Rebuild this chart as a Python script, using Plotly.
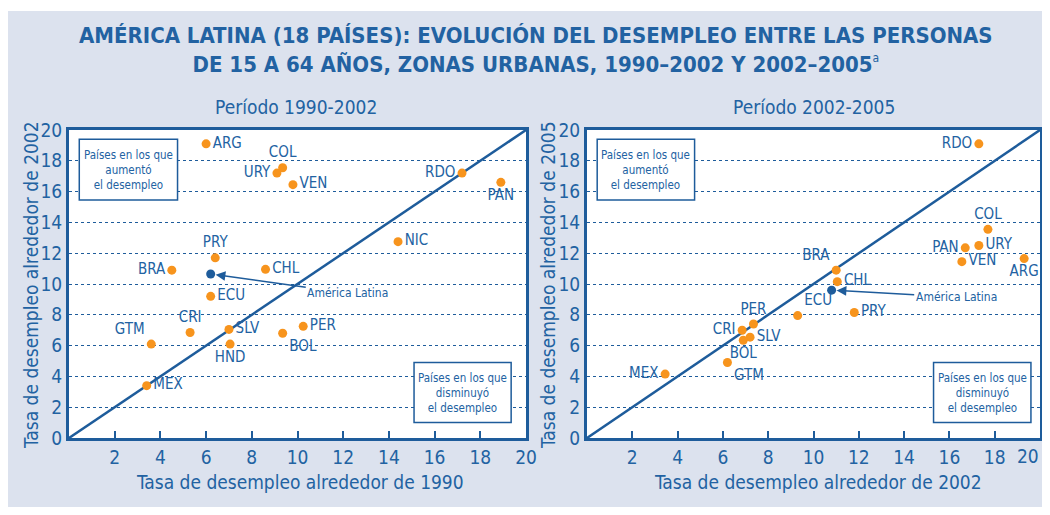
import plotly.graph_objects as go

# ---------------- data ----------------
countries_a = ["ARG", "COL", "URY", "VEN", "RDO", "PAN", "NIC", "PRY", "BRA", "CHL",
               "ECU", "CRI", "GTM", "SLV", "HND", "BOL", "PER", "MEX"]
x_1990 = [6.0, 9.35, 9.1, 9.8, 17.2, 18.9, 14.4, 6.4, 4.5, 8.6,
          6.2, 5.3, 3.6, 7.0, 7.05, 9.35, 10.25, 3.4]
y_2002a = [19.1, 17.55, 17.2, 16.45, 17.2, 16.6, 12.75, 11.7, 10.9, 10.95,
           9.2, 6.85, 6.1, 7.05, 6.1, 6.8, 7.25, 3.4]
pos_a = ["middle right", "top center", "middle left", "middle right", "middle left",
         "bottom center", "middle right", "top center", "middle left", "middle right",
         "middle right", "top center", "top left", "middle right", "bottom center",
         "bottom right", "middle right", "middle right"]

countries_b = ["RDO", "COL", "URY", "PAN", "VEN", "ARG", "BRA", "CHL", "PRY", "ECU",
               "PER", "CRI", "SLV", "BOL", "GTM", "MEX"]
x_2002 = [17.3, 17.7, 17.3, 16.7, 16.55, 19.3, 11.0, 11.05, 11.8, 9.3,
          7.35, 6.85, 7.2, 6.9, 6.2, 3.45]
y_2005 = [19.1, 13.55, 12.5, 12.35, 11.45, 11.65, 10.9, 10.15, 8.15, 7.95,
          7.4, 7.0, 6.55, 6.35, 4.9, 4.15]
pos_b = ["middle left", "top center", "middle right", "middle left", "middle right",
         "bottom center", "top left", "middle right", "middle right", "top right",
         "top center", "middle left", "middle right", "bottom center", "bottom right",
         "middle left"]

al_a = (6.2, 10.65)
al_b = (10.8, 9.6)

diag = [0, 20]
ticks_x = [2, 4, 6, 8, 10, 12, 14, 16, 18, 20]
ticks_y = [0, 2, 4, 6, 8, 10, 12, 14, 16, 18, 20]

# ---------------- styles ----------------
BLUE = "#1E5C9B"
TXT = "#2262A2"
ORANGE = "#F7941D"
BG = "#DCE2EE"
FONT = "Liberation Sans Narrow, Arial Narrow, DejaVu Sans Condensed, Roboto Condensed, sans-serif"

OFF = 8  # page body margin
W, H = 1050 - OFF, 515 - 2 * OFF


def px_x(p):
    return (p - OFF) / W


def px_y(p):
    return 1 - (p - OFF) / H


fig = go.Figure()

for (xs, ys, names, pos, xa, ya) in [(x_1990, y_2002a, countries_a, pos_a, "x", "y"),
                                      (x_2002, y_2005, countries_b, pos_b, "x2", "y2")]:
    fig.add_trace(go.Scatter(x=diag, y=diag, mode="lines", xaxis=xa, yaxis=ya,
                             line=dict(color=BLUE, width=2.5), hoverinfo="skip",
                             showlegend=False))
    fig.add_trace(go.Scatter(x=xs, y=ys, mode="markers+text", text=names,
                             textposition=pos, xaxis=xa, yaxis=ya,
                             marker=dict(color=ORANGE, size=9),
                             textfont=dict(color=TXT, size=15, family=FONT),
                             cliponaxis=False, showlegend=False))

fig.add_trace(go.Scatter(x=[al_a[0]], y=[al_a[1]], mode="markers", xaxis="x", yaxis="y",
                         marker=dict(color=BLUE, size=9), showlegend=False))
fig.add_trace(go.Scatter(x=[al_b[0]], y=[al_b[1]], mode="markers", xaxis="x2", yaxis="y2",
                         marker=dict(color=BLUE, size=9), showlegend=False))

tick_font = dict(color=TXT, size=19, family=FONT)
axis_common = dict(range=[0, 20], showline=True, mirror=True, linecolor=BLUE, linewidth=3,
                   tickfont=tick_font, zeroline=False,
                   fixedrange=True, automargin=False, ticklabeloverflow="allow")
xaxis_common = dict(axis_common, tickvals=ticks_x, ticks="inside", ticklen=7, tickwidth=2,
                    tickcolor=BLUE, showgrid=False)
yaxis_common = dict(axis_common, tickvals=ticks_y, ticks="", showgrid=True,
                    gridcolor=BLUE, griddash="dot", gridwidth=1)

# last label of the right panel is written separately so it stays inside the page
ticktext_x2 = [str(v) for v in ticks_x[:-1]] + [""]

fig.update_layout(
    width=W, height=H,
    paper_bgcolor=BG, plot_bgcolor="white",
    margin=dict(l=0, r=0, t=0, b=0),
    xaxis=dict(xaxis_common, domain=[px_x(69), px_x(526)], anchor="y"),
    yaxis=dict(yaxis_common, domain=[px_y(438), px_y(130)], anchor="x"),
    xaxis2=dict(xaxis_common, domain=[px_x(587), px_x(1040)], anchor="y2",
                ticktext=ticktext_x2),
    yaxis2=dict(yaxis_common, domain=[px_y(438), px_y(130)], anchor="x2"),
)

title_font = dict(color=TXT, size=19, family=FONT)


def paper_text(text, x, y, font, angle=0, xanchor="center"):
    return dict(text=text, x=px_x(x), y=px_y(y), xref="paper", yref="paper",
                xanchor=xanchor, yanchor="middle", showarrow=False, textangle=angle,
                font=font)


annotations = [
    paper_text("AMÉRICA LATINA (18 PAÍSES): EVOLUCIÓN DEL DESEMPLEO ENTRE LAS PERSONAS<br>"
               "DE 15 A 64 AÑOS, ZONAS URBANAS, 1990–2002 Y 2002–2005"
               "<sup><span style='font-weight:normal;font-size:12px'>a</span></sup>",
               536, 50, dict(color=TXT, size=22, family=FONT, weight="bold")),
    paper_text("Período 1990-2002", 296, 107, dict(color=TXT, size=19, family=FONT)),
    paper_text("Período 2002-2005", 814, 107, dict(color=TXT, size=19, family=FONT)),
    paper_text("Tasa de desempleo alrededor de 1990", 300, 482, title_font),
    paper_text("Tasa de desempleo alrededor de 2002", 818, 482, title_font),
    paper_text("Tasa de desempleo alrededor de 2002", 31, 285, title_font, -90),
    paper_text("Tasa de desempleo alrededor de 2005", 548, 285, title_font, -90),
    paper_text(str(ticks_x[-1]), 1041, 456, tick_font, xanchor="right"),
]

shapes = [
    # thin white strip at the top of the page, as in the reference
    dict(type="rect", xref="paper", yref="paper", x0=0, x1=1, y0=px_y(11), y1=1,
         fillcolor="white", line=dict(width=0), layer="below"),
]
box_font = dict(color=TXT, size=11.5, family=FONT)
for xa, ya in [("x", "y"), ("x2", "y2")]:
    shapes.append(dict(type="rect", xref=xa, yref=ya, x0=0.45, x1=4.75, y0=15.45, y1=19.4,
                       fillcolor="white", line=dict(color=BLUE, width=1.5), layer="above"))
    annotations.append(dict(text="Países en los que<br>aumentó<br>el desempleo", x=2.6, y=17.42,
                            xref=xa, yref=ya, showarrow=False, font=box_font))
    x0 = 15.1 if xa == "x" else 15.3
    x1 = 19.35 if xa == "x" else 19.6
    shapes.append(dict(type="rect", xref=xa, yref=ya, x0=x0, x1=x1, y0=1.0, y1=4.9,
                       fillcolor="white", line=dict(color=BLUE, width=1.5), layer="above"))
    annotations.append(dict(text="Países en los que<br>disminuyó<br>el desempleo",
                            x=(x0 + x1) / 2, y=2.95, xref=xa, yref=ya, showarrow=False,
                            font=box_font))

annotations.append(dict(text="América Latina", x=al_a[0], y=al_a[1], xref="x", yref="y",
                        ax=12.2, ay=9.4, axref="x", ayref="y", showarrow=True,
                        arrowhead=2, arrowsize=1.3, arrowwidth=1.5, arrowcolor=BLUE,
                        standoff=5, font=dict(color=TXT, size=12, family=FONT)))
annotations.append(dict(text="América Latina", x=al_b[0], y=al_b[1], xref="x2", yref="y2",
                        ax=16.3, ay=9.15, axref="x2", ayref="y2", showarrow=True,
                        arrowhead=2, arrowsize=1.3, arrowwidth=1.5, arrowcolor=BLUE,
                        standoff=5, font=dict(color=TXT, size=12, family=FONT)))

fig.update_layout(annotations=annotations, shapes=shapes)

fig.write_html("out.html")
